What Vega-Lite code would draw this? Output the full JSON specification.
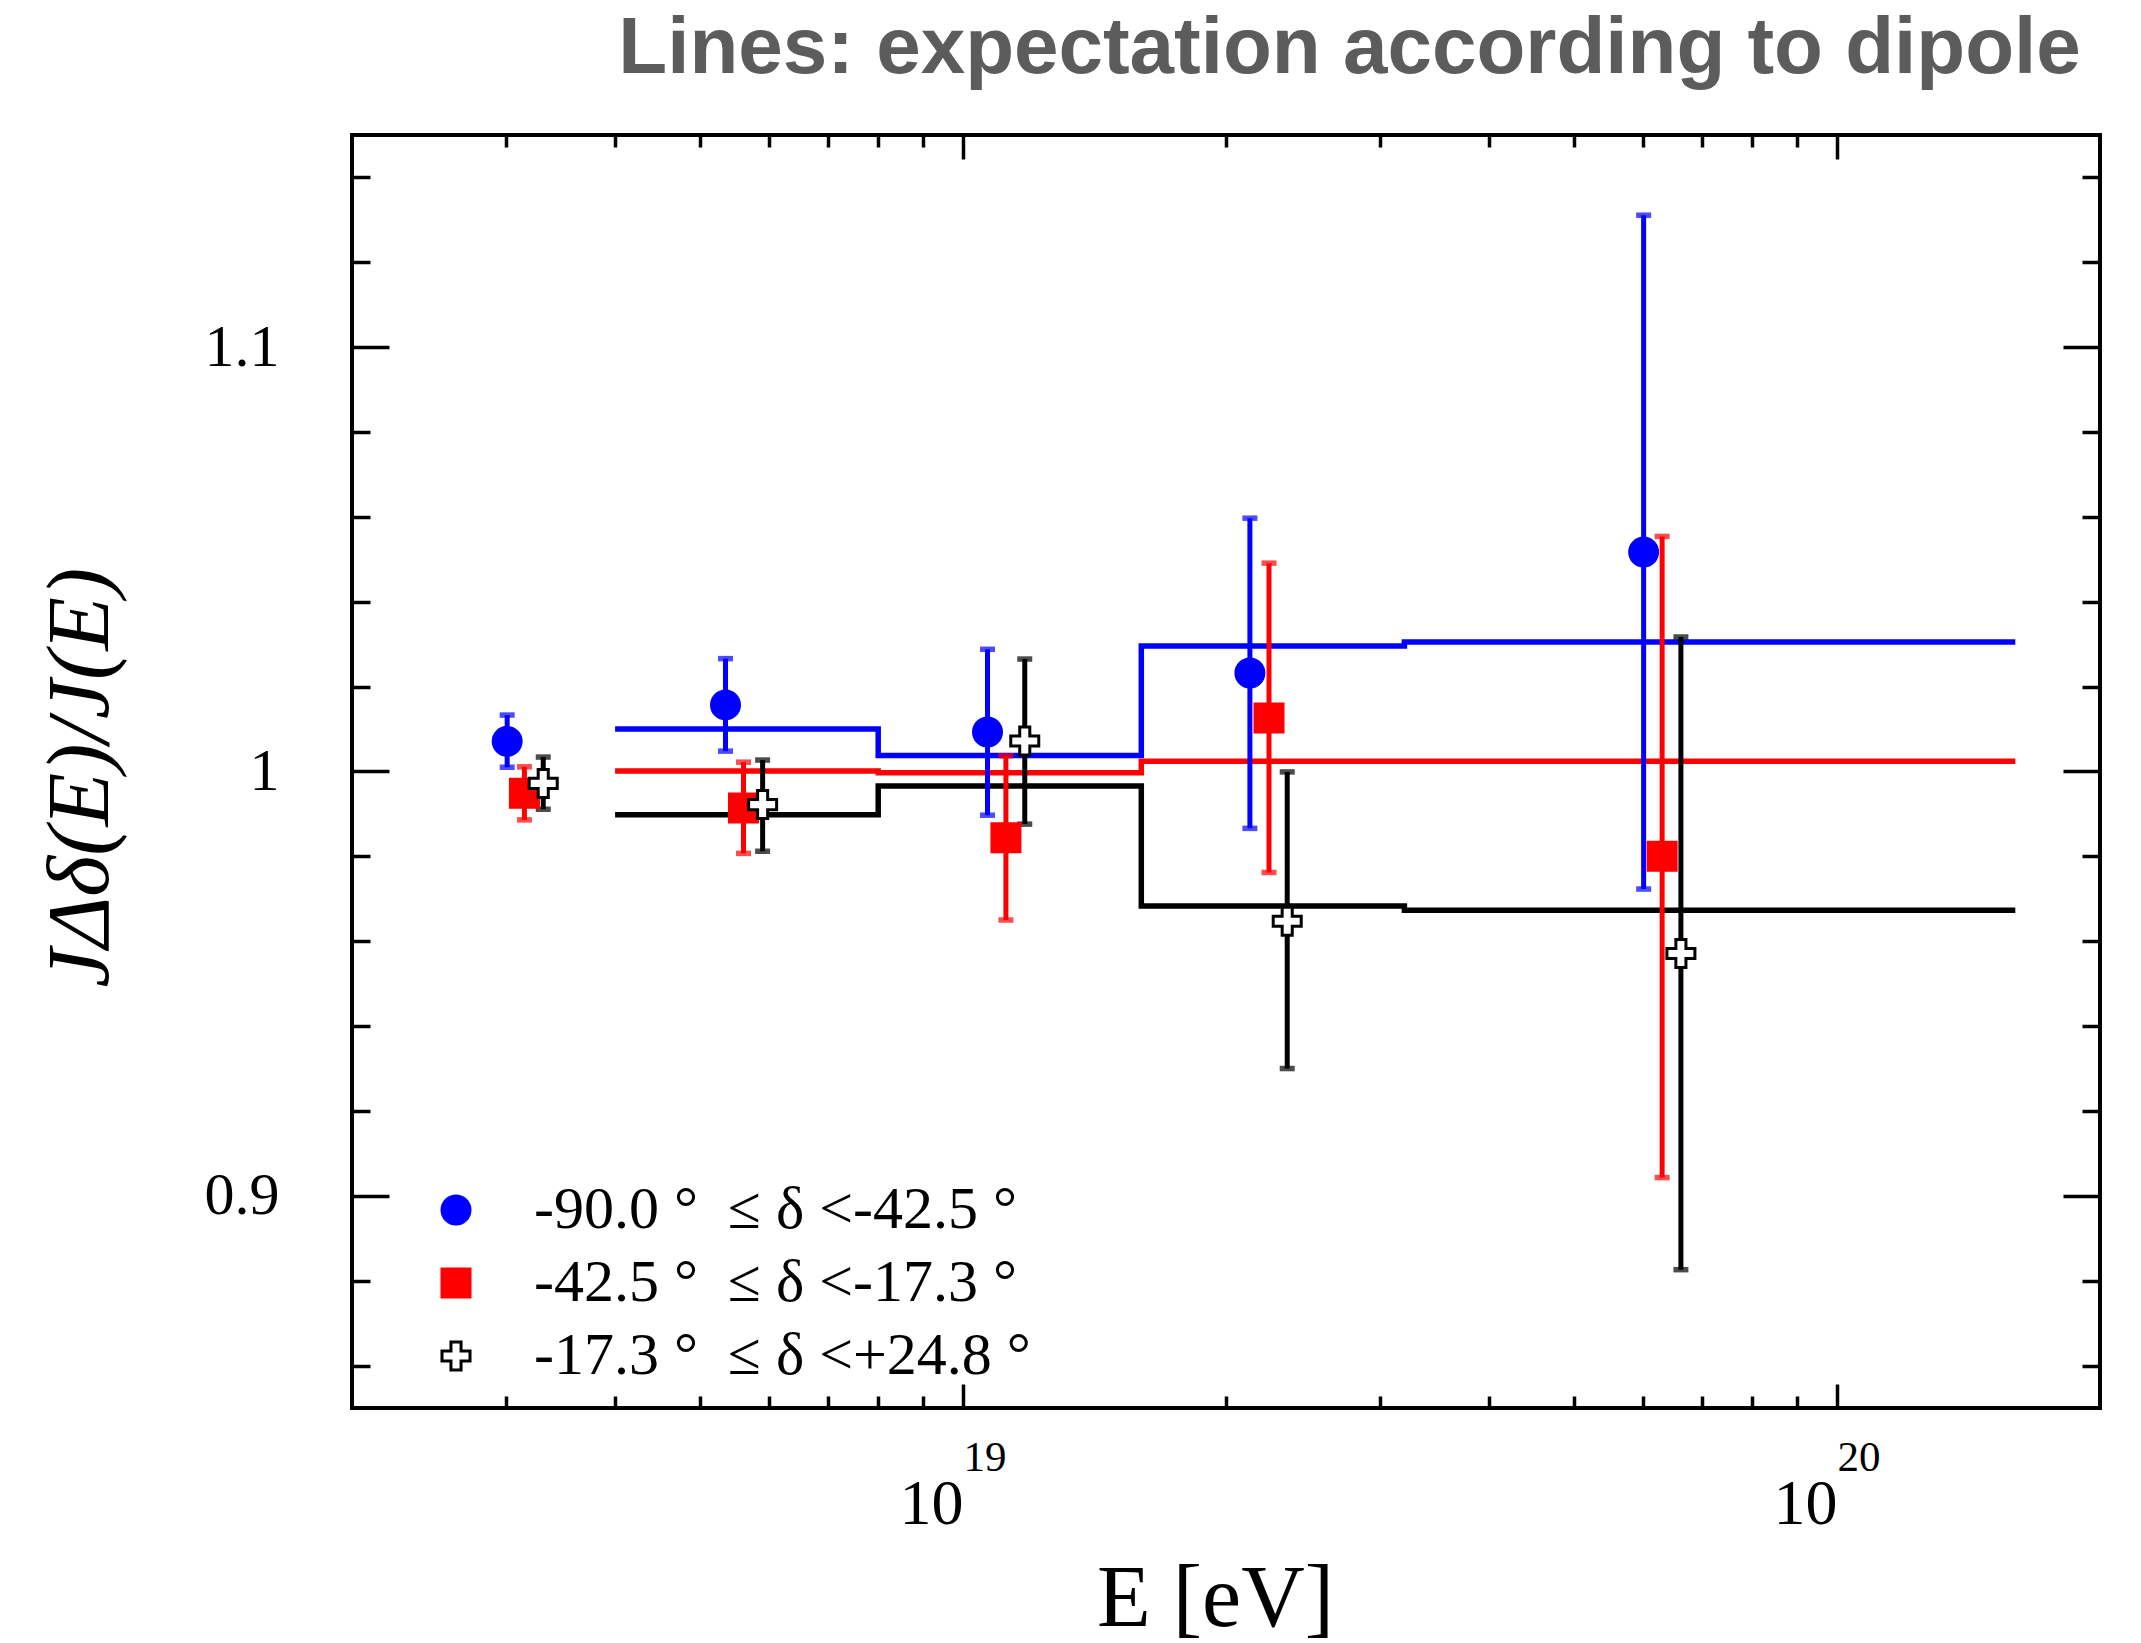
{
  "$schema": "https://vega.github.io/schema/vega-lite/v6.json",
  "autosize": {"type": "none"},
  "width": 1748,
  "height": 1273,
  "padding": {"left": 352, "top": 135, "right": 41, "bottom": 235},
  "background": "white",
  "config": {
    "view": {"stroke": "black", "strokeWidth": 4},
    "axis": {"domain": false, "grid": false, "tickColor": "black", "tickWidth": 3.5, "labelColor": "black", "titleColor": "black", "labelFont": "Liberation Serif", "titleFont": "Liberation Serif"}
  },
  "title": {
    "text": "Lines: expectation according to dipole",
    "anchor": "end",
    "font": "Liberation Sans",
    "fontSize": 80,
    "fontWeight": "bold",
    "color": "#5c5c5c",
    "baseline": "alphabetic",
    "offset": 20,
    "dx": -21,
    "dy": 40
  },
  "datasets": {
    "steps": [
      {"series": "-90.0 °\u00a0 ≤ δ <-42.5 °", "E": 4e18, "v": 1.0100},
      {"series": "-90.0 °\u00a0 ≤ δ <-42.5 °", "E": 8e18, "v": 1.0038},
      {"series": "-90.0 °\u00a0 ≤ δ <-42.5 °", "E": 1.6e19, "v": 1.0296},
      {"series": "-90.0 °\u00a0 ≤ δ <-42.5 °", "E": 3.2e19, "v": 1.0305},
      {"series": "-90.0 °\u00a0 ≤ δ <-42.5 °", "E": 1.6e20, "v": 1.0305},
      {"series": "-42.5 °\u00a0 ≤ δ <-17.3 °", "E": 4e18, "v": 1.0001},
      {"series": "-42.5 °\u00a0 ≤ δ <-17.3 °", "E": 8e18, "v": 0.9997},
      {"series": "-42.5 °\u00a0 ≤ δ <-17.3 °", "E": 1.6e19, "v": 1.0024},
      {"series": "-42.5 °\u00a0 ≤ δ <-17.3 °", "E": 3.2e19, "v": 1.0024},
      {"series": "-42.5 °\u00a0 ≤ δ <-17.3 °", "E": 1.6e20, "v": 1.0024},
      {"series": "-17.3 °\u00a0 ≤ δ <+24.8 °", "E": 4e18, "v": 0.9898},
      {"series": "-17.3 °\u00a0 ≤ δ <+24.8 °", "E": 8e18, "v": 0.9966},
      {"series": "-17.3 °\u00a0 ≤ δ <+24.8 °", "E": 1.6e19, "v": 0.9683},
      {"series": "-17.3 °\u00a0 ≤ δ <+24.8 °", "E": 3.2e19, "v": 0.9673},
      {"series": "-17.3 °\u00a0 ≤ δ <+24.8 °", "E": 1.6e20, "v": 0.9673}
    ],
    "pts": [
      {"series": "-90.0 °\u00a0 ≤ δ <-42.5 °", "E": 3.01e18, "v": 1.0071, "lo": 1.0010, "hi": 1.0133},
      {"series": "-90.0 °\u00a0 ≤ δ <-42.5 °", "E": 5.35e18, "v": 1.0157, "lo": 1.0048, "hi": 1.0266},
      {"series": "-90.0 °\u00a0 ≤ δ <-42.5 °", "E": 1.067e19, "v": 1.0093, "lo": 0.9897, "hi": 1.0288},
      {"series": "-90.0 °\u00a0 ≤ δ <-42.5 °", "E": 2.13e19, "v": 1.0232, "lo": 0.9866, "hi": 1.0597},
      {"series": "-90.0 °\u00a0 ≤ δ <-42.5 °", "E": 6.01e19, "v": 1.0517, "lo": 0.9723, "hi": 1.1311},
      {"series": "-42.5 °\u00a0 ≤ δ <-17.3 °", "E": 3.15e18, "v": 0.9949, "lo": 0.9886, "hi": 1.0011},
      {"series": "-42.5 °\u00a0 ≤ δ <-17.3 °", "E": 5.61e18, "v": 0.9914, "lo": 0.9807, "hi": 1.0022},
      {"series": "-42.5 °\u00a0 ≤ δ <-17.3 °", "E": 1.12e19, "v": 0.9844, "lo": 0.9650, "hi": 1.0037},
      {"series": "-42.5 °\u00a0 ≤ δ <-17.3 °", "E": 2.24e19, "v": 1.0126, "lo": 0.9762, "hi": 1.0491},
      {"series": "-42.5 °\u00a0 ≤ δ <-17.3 °", "E": 6.31e19, "v": 0.9800, "lo": 0.9043, "hi": 1.0554},
      {"series": "-17.3 °\u00a0 ≤ δ <+24.8 °", "E": 3.31e18, "v": 0.9972, "lo": 0.9911, "hi": 1.0034},
      {"series": "-17.3 °\u00a0 ≤ δ <+24.8 °", "E": 5.90e18, "v": 0.9922, "lo": 0.9812, "hi": 1.0027},
      {"series": "-17.3 °\u00a0 ≤ δ <+24.8 °", "E": 1.177e19, "v": 1.0072, "lo": 0.9876, "hi": 1.0265},
      {"series": "-17.3 °\u00a0 ≤ δ <+24.8 °", "E": 2.35e19, "v": 0.9647, "lo": 0.9300, "hi": 0.9999},
      {"series": "-17.3 °\u00a0 ≤ δ <+24.8 °", "E": 6.63e19, "v": 0.9571, "lo": 0.8826, "hi": 1.0317}
    ]
  },
  "resolve": {"axis": {"x": "independent", "y": "independent"}},
  "layer": [
    {
      "data": {"name": "steps"},
      "mark": {"type": "line", "interpolate": "step-after", "strokeWidth": 5.5},
      "encoding": {
        "x": {"field": "E", "type": "quantitative",
          "scale": {"type": "log", "domain": [2e18, 2e20], "nice": false},
          "axis": {"orient": "bottom", "values": [1e19, 1e20], "tickSize": -24,
            "labelExpr": "'10'",
            "labelFontSize": 64, "labelBaseline": "alphabetic", "labelPadding": 139, "labelAlign": "right", "labelDx": 1,
            "title": "E [eV]", "titleFontSize": 88, "titleFontWeight": "normal", "titleBaseline": "alphabetic",
            "titleAnchor": "middle", "titleX": 863, "titleY": 217}},
        "y": {"field": "v", "type": "quantitative",
          "scale": {"domain": [0.85, 1.15], "nice": false, "zero": false},
          "axis": {"orient": "left", "values": [0.9, 1.0, 1.1], "tickSize": -37,
            "labelExpr": "datum.value == 1 ? '1' : format(datum.value, '.1f')",
            "labelFontSize": 60, "labelPadding": 110, "labelBaseline": "middle",
            "title": "JΔδ(E)/J(E)", "titleFontSize": 88, "titleFontStyle": "italic", "titleFontWeight": "normal",
            "titleAngle": -90, "titleBaseline": "middle", "titleAlign": "center", "titleX": -271, "titleY": 642}},
        "color": {"field": "series", "type": "nominal",
          "scale": {"domain": ["-17.3 °\u00a0 ≤ δ <+24.8 °", "-42.5 °\u00a0 ≤ δ <-17.3 °", "-90.0 °\u00a0 ≤ δ <-42.5 °"], "range": ["#000000", "#ff0000", "#0000ff"]},
          "legend": null}
      }
    },
    {
      "data": {"name": "pts"},
      "mark": {"type": "rule", "strokeWidth": 5},
      "encoding": {
        "x": {"field": "E", "type": "quantitative",
          "axis": {"orient": "bottom", "values": [3e18, 4e18, 5e18, 6e18, 7e18, 8e18, 9e18, 2e19, 3e19, 4e19, 5e19, 6e19, 7e19, 8e19, 9e19], "tickSize": -12, "labels": false, "title": null}},
        "y": {"field": "lo", "type": "quantitative",
          "axis": {"orient": "left", "values": [0.86, 0.88, 0.92, 0.94, 0.96, 0.98, 1.02, 1.04, 1.06, 1.08, 1.12, 1.14], "tickSize": -18, "labels": false, "title": null}},
        "y2": {"field": "hi"},
        "color": {"field": "series", "type": "nominal", "legend": null}
      }
    },
    {
      "data": {"name": "pts"},
      "mark": {"type": "tick", "orient": "horizontal", "size": 15, "thickness": 5.5},
      "encoding": {
        "x": {"field": "E", "type": "quantitative",
          "axis": {"orient": "top", "values": [1e19, 1e20], "tickSize": -24, "labels": false, "title": null}},
        "y": {"field": "lo", "type": "quantitative",
          "axis": {"orient": "right", "values": [0.9, 1.0, 1.1], "tickSize": -37, "labels": false, "title": null}},
        "color": {"field": "series", "type": "nominal", "legend": null}
      }
    },
    {
      "data": {"name": "pts"},
      "mark": {"type": "tick", "orient": "horizontal", "size": 15, "thickness": 5.5},
      "encoding": {
        "x": {"field": "E", "type": "quantitative",
          "axis": {"orient": "top", "values": [3e18, 4e18, 5e18, 6e18, 7e18, 8e18, 9e18, 2e19, 3e19, 4e19, 5e19, 6e19, 7e19, 8e19, 9e19], "tickSize": -12, "labels": false, "title": null}},
        "y": {"field": "hi", "type": "quantitative",
          "axis": {"orient": "right", "values": [0.86, 0.88, 0.92, 0.94, 0.96, 0.98, 1.02, 1.04, 1.06, 1.08, 1.12, 1.14], "tickSize": -18, "labels": false, "title": null}},
        "color": {"field": "series", "type": "nominal", "legend": null}
      }
    },
    {
      "data": {"name": "pts"},
      "mark": {"type": "point", "filled": true, "size": 784, "strokeWidth": 3, "opacity": 1},
      "encoding": {
        "x": {"field": "E", "type": "quantitative",
          "axis": {"orient": "bottom", "values": [1e19, 1e20], "ticks": false, "tickSize": 0,
            "labelExpr": "datum.value > 5e19 ? '20' : '19'",
            "labelFontSize": 43, "labelBaseline": "alphabetic", "labelPadding": 62, "labelAlign": "left", "labelDx": 11,
            "title": null}},
        "y": {"field": "v", "type": "quantitative", "axis": null},
        "fill": {"field": "series", "type": "nominal",
          "scale": {"domain": ["-90.0 °\u00a0 ≤ δ <-42.5 °", "-42.5 °\u00a0 ≤ δ <-17.3 °", "-17.3 °\u00a0 ≤ δ <+24.8 °"], "range": ["#0000ff", "#ff0000", "#ffffff"]},
          "legend": {"orient": "none", "legendX": 74, "legendY": 1045, "title": null, "padding": 0,
            "labelFont": "Liberation Serif", "labelFontSize": 60, "labelColor": "black", "labelOffset": 48, "labelLimit": 0,
            "symbolSize": 784, "symbolStrokeWidth": 3, "rowPadding": 13, "symbolOpacity": 1}},
        "stroke": {"field": "series", "type": "nominal",
          "scale": {"domain": ["-90.0 °\u00a0 ≤ δ <-42.5 °", "-42.5 °\u00a0 ≤ δ <-17.3 °", "-17.3 °\u00a0 ≤ δ <+24.8 °"], "range": ["#0000ff", "#ff0000", "#000000"]},
          "legend": {"orient": "none", "legendX": 74, "legendY": 1045, "title": null, "padding": 0,
            "labelFont": "Liberation Serif", "labelFontSize": 60, "labelColor": "black", "labelOffset": 48, "labelLimit": 0,
            "symbolSize": 784, "symbolStrokeWidth": 3, "rowPadding": 13, "symbolOpacity": 1}},
        "shape": {"field": "series", "type": "nominal",
          "scale": {"domain": ["-90.0 °\u00a0 ≤ δ <-42.5 °", "-42.5 °\u00a0 ≤ δ <-17.3 °", "-17.3 °\u00a0 ≤ δ <+24.8 °"], "range": ["circle", "square", "M-0.36,-1H0.36V-0.36H1V0.36H0.36V1H-0.36V0.36H-1V-0.36H-0.36Z"]},
          "legend": {"orient": "none", "legendX": 74, "legendY": 1045, "title": null, "padding": 0,
            "labelFont": "Liberation Serif", "labelFontSize": 60, "labelColor": "black", "labelOffset": 48, "labelLimit": 0,
            "symbolSize": 784, "symbolStrokeWidth": 3, "rowPadding": 13, "symbolOpacity": 1}}
      }
    }
  ]
}
